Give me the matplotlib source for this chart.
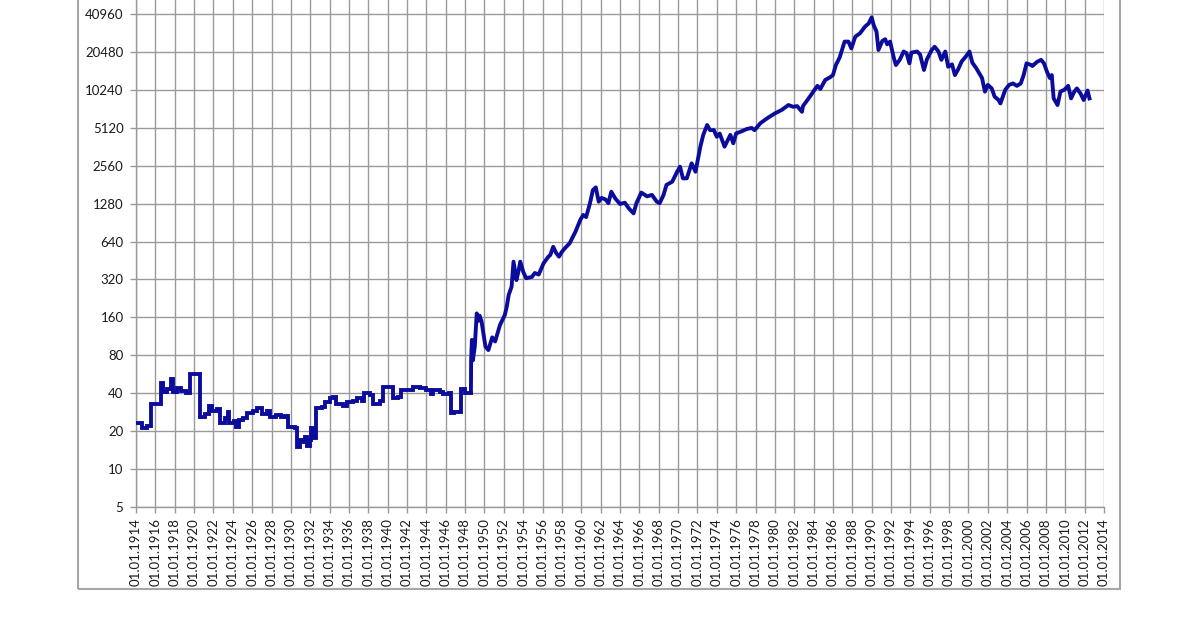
import matplotlib
matplotlib.use("Agg")
import matplotlib.pyplot as plt
from matplotlib.patches import Rectangle
from matplotlib.ticker import FixedLocator, NullLocator

# ---- data ----
# early period, annual/periodic quotes -> drawn as steps
step_years = [1914.0, 1914.6, 1915.1, 1915.6, 1916.6, 1916.8, 1917.2, 1917.6, 1917.8, 1918.2,
              1918.7, 1919.2, 1919.6, 1920.6, 1921.1, 1921.5, 1921.8, 1922.4, 1922.7, 1923.2,
              1923.5, 1923.6, 1924.1, 1924.3, 1924.6, 1925.1, 1925.5, 1926.1, 1926.5, 1927.0,
              1927.5, 1927.8, 1928.5, 1929.0, 1929.4, 1929.7, 1930.4, 1930.6, 1930.9, 1931.3,
              1931.5, 1931.7, 1932.0, 1932.1, 1932.3, 1932.6, 1933.2, 1933.5, 1934.0, 1934.4,
              1934.7, 1935.4, 1935.8, 1936.4, 1936.8, 1937.3, 1937.6, 1938.2, 1938.5, 1939.2,
              1939.5, 1940.6, 1941.1, 1941.4, 1942.6, 1943.3, 1944.0, 1944.5, 1944.7, 1945.4,
              1945.7, 1946.3, 1946.5, 1946.9, 1947.6, 1948.0, 1948.4, 1948.6]
step_values = [23, 21, 22, 33, 48, 41, 43, 52, 41, 44,
               42, 40, 57, 26, 27.5, 31.5, 29, 30, 23.3, 25.5,
               28.5, 23, 24, 21.5, 24.7, 25.5, 28, 29, 30.3, 27.5,
               29, 25.7, 27, 25.7, 26.5, 21.5, 21, 15, 17, 16.5,
               18, 15.2, 17, 21, 17.5, 30.3, 31, 34, 36.5, 37.5,
               32.8, 31.5, 34, 35, 36.5, 35, 40.4, 38.5, 33, 35,
               45, 36.5, 37.5, 42.4, 45, 44, 42.5, 39.5, 42.4, 41,
               39.5, 40, 27.7, 28.5, 43, 40, 40.5, 40.5]

# later period, monthly quotes -> drawn as a line
line_years = [1948.6, 1948.62, 1948.7, 1948.8, 1949.0, 1949.2, 1949.35, 1949.5, 1949.7, 1950.1,
              1950.4, 1950.8, 1951.1, 1951.6, 1952.1, 1952.3, 1952.5, 1952.8, 1953.0, 1953.3,
              1953.5, 1953.7, 1954.0, 1954.3, 1954.9, 1955.2, 1955.6, 1956.1, 1956.6, 1956.8,
              1957.1, 1957.4, 1957.7, 1958.0, 1958.3, 1958.8, 1959.4, 1959.9, 1960.2, 1960.5,
              1960.9, 1961.2, 1961.5, 1961.8, 1962.1, 1962.5, 1962.8, 1963.1, 1963.5, 1964.0,
              1964.5, 1964.9, 1965.4, 1965.7, 1966.2, 1966.8, 1967.3, 1967.8, 1968.1, 1968.5,
              1968.8, 1969.4, 1969.9, 1970.2, 1970.5, 1970.9, 1971.4, 1971.8, 1972.3, 1972.6,
              1973.0, 1973.3, 1973.7, 1974.0, 1974.3, 1974.8, 1975.4, 1975.7, 1976.0, 1976.5,
              1977.1, 1977.6, 1977.9, 1978.5, 1979.2, 1980.0, 1980.7, 1981.4, 1981.9, 1982.3,
              1982.8, 1982.9, 1983.6, 1984.1, 1984.4, 1984.7, 1985.2, 1985.7, 1986.0, 1986.3,
              1986.7, 1987.2, 1987.6, 1987.9, 1988.3, 1988.8, 1989.3, 1989.7, 1990.0, 1990.2,
              1990.5, 1990.7, 1991.1, 1991.4, 1991.6, 1991.9, 1992.3, 1992.5, 1992.9, 1993.3,
              1993.6, 1993.9, 1994.1, 1994.7, 1995.0, 1995.4, 1995.7, 1996.2, 1996.5, 1996.9,
              1997.2, 1997.6, 1997.9, 1998.3, 1998.6, 1998.9, 1999.3, 1999.7, 2000.1, 2000.4,
              2000.8, 2001.4, 2001.7, 2002.0, 2002.4, 2002.7, 2003.1, 2003.3, 2003.8, 2004.2,
              2004.6, 2005.0, 2005.4, 2005.7, 2006.0, 2006.4, 2006.6, 2007.1, 2007.5, 2007.8,
              2008.1, 2008.4, 2008.6, 2008.8, 2009.2, 2009.5, 2009.9, 2010.3, 2010.6, 2010.9,
              2011.2, 2011.6, 2011.9, 2012.3, 2012.5]
line_values = [40.5, 73, 106, 73, 94, 172, 150, 165, 148, 94,
               88, 111, 103, 139, 167, 194, 241, 280, 443, 316,
               368, 443, 368, 327, 335, 360, 350, 429, 485, 500,
               581, 520, 485, 530, 565, 620, 766, 950, 1040, 1000,
               1290, 1640, 1720, 1325, 1420, 1380, 1290, 1590, 1410, 1270,
               1300, 1175, 1070, 1290, 1565, 1460, 1500, 1325, 1290, 1500,
               1800, 1910, 2290, 2510, 2030, 2030, 2670, 2290, 3620, 4490,
               5380, 4900, 4900, 4340, 4600, 3620, 4490, 3850, 4620, 4770,
               5000, 5100, 4900, 5560, 6080, 6650, 7080, 7750, 7500, 7600,
               6850, 7600, 9000, 10240, 11000, 10400, 12250, 12870, 13400, 16080,
               18550, 24700, 24700, 21800, 27000, 28800, 32400, 34500, 38500, 33500,
               29600, 21200, 25000, 25800, 23500, 24700, 18200, 16100, 17700, 20600,
               20000, 16600, 20200, 20600, 19500, 14700, 17800, 21200, 22500, 20600,
               17700, 20600, 15600, 16300, 13400, 14700, 17200, 18700, 20600, 16800,
               15200, 12700, 9900, 11200, 10500, 9030, 8500, 7980, 10240, 11200,
               11500, 11000, 11500, 13400, 16600, 16200, 15800, 17100, 17700, 16600,
               14300, 12700, 13400, 8750, 7750, 9900, 10240, 11000, 8750, 9800,
               10500, 9500, 8500, 10100, 8750]

y_ticks = [5, 10, 20, 40, 80, 160, 320, 640, 1280, 2560, 5120, 10240, 20480, 40960]
x_tick_years = list(range(1914, 2015, 2))
x_tick_labels = [f"01.01.{y}" for y in x_tick_years]

# ---- figure ----
plt.rcParams['font.family'] = ['Lato', 'DejaVu Sans']
fig = plt.figure(figsize=(12, 6.3), dpi=100)
fig.patch.set_facecolor('white')

# outer chart frame (top edge cropped off in the reference)
fig.patches.append(Rectangle((78 / 1200, 41 / 630), (1120 - 78) / 1200, 1.2,
                             transform=fig.transFigure, fill=False,
                             edgecolor='#a6a6a6', linewidth=1.5, zorder=0))

ax = fig.add_axes([136 / 1200, 123 / 630, 968 / 1200, 531 / 630])
ax.set_yscale('log', base=2)
ax.set_ylim(5, 81920)
ax.set_xlim(1914, 2014)

line_color = '#0c0c9c'
ax.plot(step_years, step_values, drawstyle='steps-post', color=line_color,
        linewidth=2.8, solid_joinstyle='miter', zorder=3)
ax.plot(line_years, line_values, color=line_color, linewidth=2.8,
        solid_joinstyle='round', zorder=3)

ax.yaxis.set_major_locator(FixedLocator(y_ticks))
ax.yaxis.set_minor_locator(NullLocator())
ax.set_yticklabels([str(v) for v in y_ticks])
ax.set_xticks(x_tick_years)
ax.set_xticklabels(x_tick_labels, rotation=90)

ax.grid(True, which='major', color='#9a9a9a', linewidth=1.0)
ax.set_axisbelow(True)
for side in ['top', 'right']:
    ax.spines[side].set_visible(False)
for side in ['left', 'bottom']:
    ax.spines[side].set_color('#9a9a9a')
    ax.spines[side].set_linewidth(1.0)

ax.tick_params(axis='both', which='major', length=4, width=1.0, color='#9a9a9a',
               labelsize=9.5, labelcolor='#1a1a1a')
ax.tick_params(axis='y', pad=5)
ax.tick_params(axis='x', pad=4)

fig.savefig('out.png', dpi=100, facecolor='white')
